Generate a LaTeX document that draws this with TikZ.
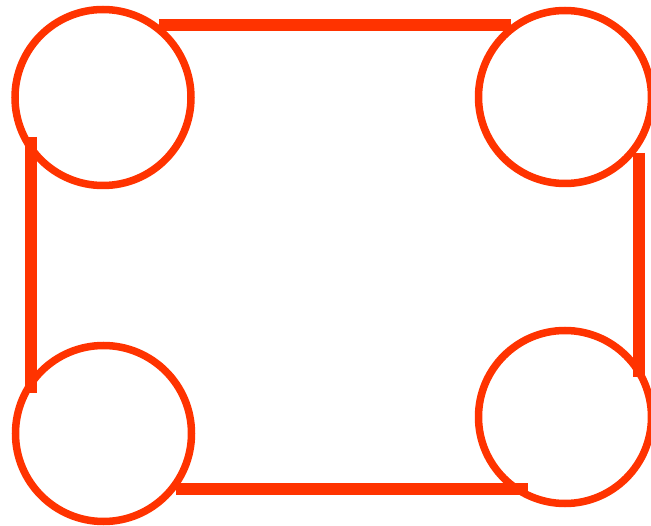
\documentclass[tikz,border=0pt]{standalone}
\definecolor{ring}{HTML}{FF3300}
\begin{document}
\begin{tikzpicture}[x=1pt,y=1pt,
  ringnode/.style={circle, draw=ring, line width=7.5pt, minimum size=176pt, inner sep=0pt},
  bar/.style={draw=ring, line width=12pt, line cap=butt}]
\useasboundingbox (0,0) rectangle (651,-526);
\node[ringnode] (tl) at (103,-97.5) {};
\node[ringnode, minimum size=173pt] (tr) at (565,-97) {};
\node[ringnode] (bl) at (103.5,-433.5) {};
\node[ringnode, minimum size=173pt] (br) at (565,-417) {};
\coordinate (t1) at (159,-25.5);
\coordinate (t2) at (511,-25.5);
\coordinate (l1) at (31,-137);
\coordinate (l2) at (31,-393);
\coordinate (r1) at (639,-153);
\coordinate (r2) at (639,-377);
\coordinate (b1) at (176,-489);
\coordinate (b2) at (528,-489);
\draw[bar] (t1) -- (t2);
\draw[bar] (l1) -- (l2);
\draw[bar] (r1) -- (r2);
\draw[bar] (b1) -- (b2);
\end{tikzpicture}
\end{document}
